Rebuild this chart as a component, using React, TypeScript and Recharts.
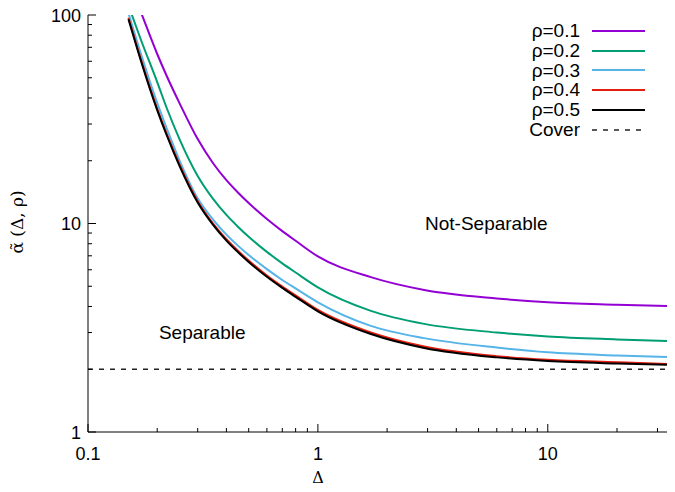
import {
  LineChart,
  Line,
  XAxis,
  YAxis,
  ReferenceLine,
  ReferenceDot,
  Legend,
} from 'recharts'

// Δ samples shared by every curve
const DELTA = [0.15, 0.17, 0.2, 0.22, 0.25, 0.3, 0.35, 0.4, 0.45, 0.5, 0.6, 0.7, 0.8, 1, 1.7, 2.9, 6, 10, 20, 33]

// α(Δ, ρ) (values > 100 get clipped at the top)
const RHO_01 = [147, 103, 65, 51, 37.8, 25.4, 19.46, 16.14, 14.04, 12.53, 10.5, 9.19, 8.26, 6.95, 5.53, 4.8, 4.37, 4.19, 4.08, 4.02]
const RHO_02 = [111, 75.9, 47.7, 35.8, 25.4, 16.9, 13.12, 10.99, 9.63, 8.64, 7.31, 6.44, 5.82, 4.94, 3.81, 3.3, 3.0, 2.87, 2.78, 2.73]
const RHO_03 = [102, 65, 37.9, 28.6, 20.1, 13.2, 10.43, 8.84, 7.81, 7.06, 6.04, 5.36, 4.88, 4.19, 3.23, 2.82, 2.54, 2.41, 2.33, 2.29]
const RHO_04 = [97, 61.1, 35.5, 26.9, 19.2, 12.8, 9.99, 8.4, 7.38, 6.64, 5.63, 4.98, 4.52, 3.85, 3.0, 2.57, 2.31, 2.22, 2.16, 2.12]
const RHO_05 = [95.4, 60.2, 35, 26.5, 18.9, 12.6, 9.84, 8.28, 7.27, 6.54, 5.55, 4.91, 4.45, 3.79, 2.95, 2.53, 2.28, 2.19, 2.13, 2.1]

const COVER = 2

const X_TICKS = [0.1, 0.2, 0.3, 0.4, 0.5, 0.6, 0.7, 0.8, 0.9, 1, 2, 3, 4, 5, 6, 7, 8, 9, 10, 20, 30]
const X_MAJOR = [0.1, 1, 10]
const Y_TICKS = [1, 2, 3, 4, 5, 6, 7, 8, 9, 10, 20, 30, 40, 50, 60, 70, 80, 90, 100]
const Y_MAJOR = [1, 10, 100]

const SERIES = [
  { key: 'r1', name: 'ρ=0.1', color: '#9400d3' },
  { key: 'r2', name: 'ρ=0.2', color: '#009e73' },
  { key: 'r3', name: 'ρ=0.3', color: '#56b4e9' },
  { key: 'r4', name: 'ρ=0.4', color: '#e51e10' },
  { key: 'r5', name: 'ρ=0.5', color: '#000000' },
]

const data = DELTA.map((d, i) => ({
  d,
  r1: RHO_01[i],
  r2: RHO_02[i],
  r3: RHO_03[i],
  r4: RHO_04[i],
  r5: RHO_05[i],
}))

const SANS = '"Liberation Sans", Arial, sans-serif'
const SERIF = '"DejaVu Serif", "Liberation Serif", serif'

const isMajor = (list: number[], v: number) => list.some((m) => Math.abs(m - v) < 1e-9)

// ticks point inward, gnuplot style
const BottomTick = (props: any) => {
  const { x, y, payload } = props
  const major = isMajor(X_MAJOR, payload.value)
  return (
    <g>
      <line x1={x} x2={x} y1={y} y2={y - (major ? 8 : 4)} stroke="#000" />
      {major && (
        <text x={x} y={y + 28} textAnchor="middle" fontSize={18} fontFamily={SANS} fill="#000">
          {payload.value}
        </text>
      )}
    </g>
  )
}

const TopTick = (props: any) => {
  const { x, y, payload } = props
  const major = isMajor(X_MAJOR, payload.value)
  return <line x1={x} x2={x} y1={y} y2={y + (major ? 8 : 4)} stroke="#000" />
}

const LeftTick = (props: any) => {
  const { x, y, payload } = props
  const major = isMajor(Y_MAJOR, payload.value)
  return (
    <g>
      <line x1={x} x2={x + (major ? 8 : 4)} y1={y} y2={y} stroke="#000" />
      {major && (
        <text x={x - 7} y={y + 6.5} textAnchor="end" fontSize={18} fontFamily={SANS} fill="#000">
          {payload.value}
        </text>
      )}
    </g>
  )
}

const RightTick = (props: any) => {
  const { x, y, payload } = props
  const major = isMajor(Y_MAJOR, payload.value)
  return <line x1={x} x2={x - (major ? 8 : 4)} y1={y} y2={y} stroke="#000" />
}

const YTitle = () => (
  <text
    transform="translate(17,222) rotate(-90)"
    textAnchor="middle"
    dominantBaseline="central"
    fontSize={17}
    fontFamily={SERIF}
    fill="#000"
  >
    α̃ (Δ, ρ)
  </text>
)

const XTitle = () => (
  <text x={318} y={483} textAnchor="middle" fontSize={16} fontFamily={SERIF} fill="#000">
    Δ
  </text>
)

const LEGEND_ROWS = [
  ...SERIES.map((s) => ({ name: s.name, color: s.color, dash: undefined as string | undefined })),
  { name: 'Cover', color: '#222', dash: '5 6' },
]

const KeyBox = () => (
  <div style={{ fontFamily: SANS, fontSize: 19, color: '#000' }}>
    {LEGEND_ROWS.map((r) => (
      <div key={r.name} style={{ display: 'flex', alignItems: 'center', height: 19.8 }}>
        <span style={{ width: 100, textAlign: 'right', lineHeight: '19.8px' }}>{r.name}</span>
        <svg width={53} height={6} style={{ marginLeft: 12 }}>
          <line
            x1={0}
            x2={53}
            y1={3}
            y2={3}
            stroke={r.color}
            strokeWidth={r.dash ? 1.5 : 2}
            strokeDasharray={r.dash}
          />
        </svg>
      </div>
    ))}
  </div>
)

export default function App() {
  return (
    <div style={{ position: 'absolute', left: 0, top: 0, background: '#fff' }}>
      <LineChart
        width={675}
        height={492}
        data={data}
        margin={{ top: 15, right: 8, bottom: 20, left: 10 }}
      >
        <XAxis
          dataKey="d"
          type="number"
          scale="log"
          domain={[0.1, 33]}
          allowDataOverflow
          ticks={X_TICKS}
          interval={0}
          tick={<BottomTick />}
          tickLine={false}
          tickSize={0}
          tickMargin={0}
          height={40}
          axisLine={{ stroke: '#000' }}
          label={<XTitle />}
        />
        <XAxis
          xAxisId="top"
          orientation="top"
          dataKey="d"
          type="number"
          scale="log"
          domain={[0.1, 33]}
          allowDataOverflow
          ticks={X_TICKS}
          interval={0}
          tick={<TopTick />}
          tickLine={false}
          tickSize={0}
          tickMargin={0}
          height={0}
          axisLine={{ stroke: '#000' }}
        />
        <YAxis
          type="number"
          scale="log"
          domain={[1, 100]}
          allowDataOverflow
          ticks={Y_TICKS}
          interval={0}
          tick={<LeftTick />}
          tickLine={false}
          tickSize={0}
          tickMargin={0}
          width={78}
          axisLine={{ stroke: '#000' }}
          label={<YTitle />}
        />
        <YAxis
          yAxisId="right"
          orientation="right"
          type="number"
          scale="log"
          domain={[1, 100]}
          allowDataOverflow
          ticks={Y_TICKS}
          interval={0}
          tick={<RightTick />}
          tickLine={false}
          tickSize={0}
          tickMargin={0}
          width={0}
          axisLine={{ stroke: '#000' }}
        />

        <ReferenceLine y={COVER} stroke="#222" strokeWidth={1.5} strokeDasharray="5 6" />

        {SERIES.map((s) => (
          <Line
            key={s.key}
            dataKey={s.key}
            name={s.name}
            type="monotone"
            stroke={s.color}
            strokeWidth={2}
            dot={false}
            isAnimationActive={false}
          />
        ))}

        <ReferenceDot
          x={5.4}
          y={10}
          r={0}
          fill="none"
          stroke="none"
          label={{ value: 'Not-Separable', position: 'center', fontSize: 19, fontFamily: SANS, fill: '#000' }}
        />
        <ReferenceDot
          x={0.314}
          y={3.0}
          r={0}
          fill="none"
          stroke="none"
          label={{ value: 'Separable', position: 'center', fontSize: 19, fontFamily: SANS, fill: '#000' }}
        />

        <Legend
          layout="vertical"
          align="center"
          verticalAlign="middle"
          content={<KeyBox />}
          wrapperStyle={{ top: 21, left: 480, width: 180, height: 120 }}
        />
      </LineChart>
    </div>
  )
}
